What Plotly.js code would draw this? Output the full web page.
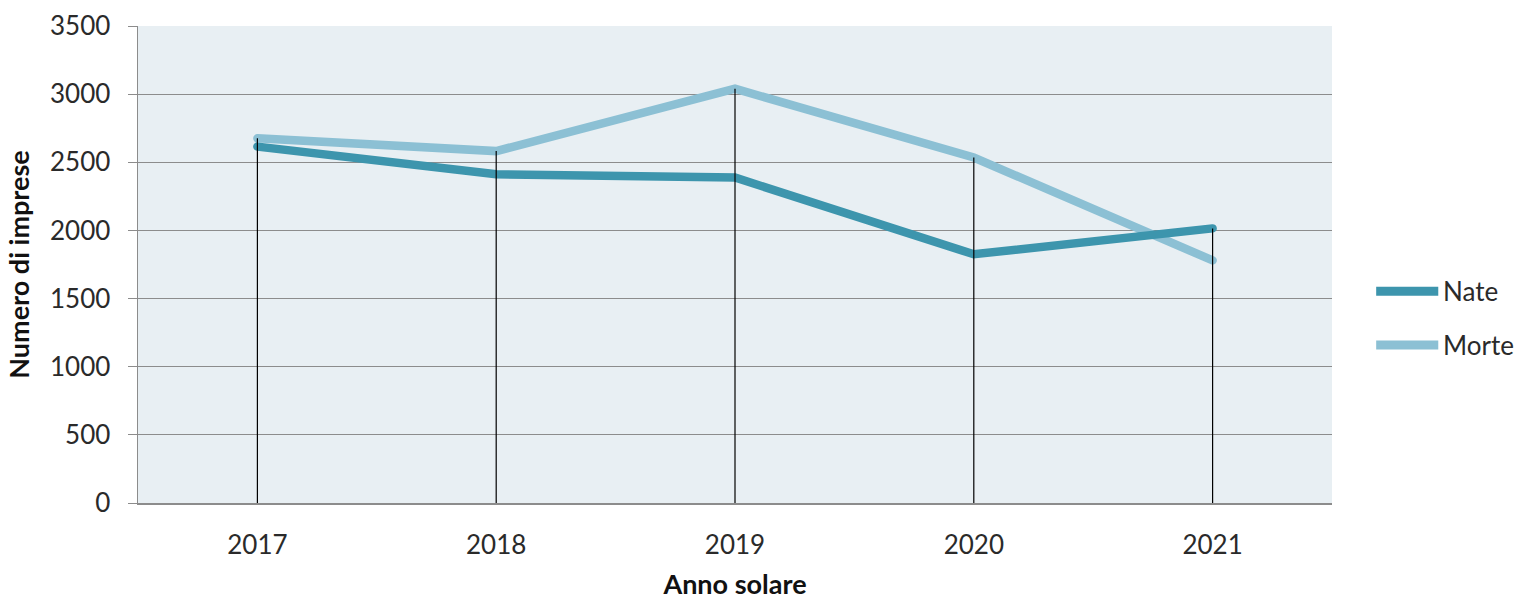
<!DOCTYPE html>
<html>
<head>
<meta charset="utf-8">
<script src="https://cdn.plot.ly/plotly-3.0.1.min.js"></script>
<style>html,body{margin:0;padding:0;background:#fff;}#chart{width:1521px;height:600px;}
#chart .scatterlayer path.js-line{stroke-linecap:round;}</style>
</head>
<body>
<div id="chart"></div>
<script>
const years = ["2017", "2018", "2019", "2020", "2021"];
const nate = [2615, 2412, 2388, 1825, 2015];
const morte = [2676, 2582, 3040, 2535, 1780];
const yTicks = [0, 500, 1000, 1500, 2000, 2500, 3000, 3500];
const seriesNames = ["Nate", "Morte"];
const seriesColors = ["#3d95ad", "#8cc0d4"];

const FONT = "Lato, 'Open Sans', sans-serif";
const TICK = {family: FONT, size: 26, color: "#2a2a2a"};

const traces = [
  {x: years, y: morte, name: seriesNames[1], type: "scatter", mode: "lines",
   line: {color: seriesColors[1], width: 8.5}},
  {x: years, y: nate, name: seriesNames[0], type: "scatter", mode: "lines",
   line: {color: seriesColors[0], width: 8.5}}
];

// drop lines from the highest series value to the axis
const shapes = years.map((yr, i) => ({
  type: "line", xref: "x", yref: "y", layer: "above",
  x0: i, x1: i, y0: 0, y1: Math.max(nate[i], morte[i]),
  line: {color: "#000", width: 1.2}
}));

// custom legend (longer line samples as in the reference)
const legY = [0.444, 0.331];
const annotations = [];
seriesNames.forEach((nm, k) => {
  shapes.push({type: "line", xref: "paper", yref: "paper",
    x0: 1.037, x1: 1.089, y0: legY[k], y1: legY[k],
    line: {color: seriesColors[k], width: 9}});
  annotations.push({xref: "paper", yref: "paper", x: 1.091, y: legY[k],
    xanchor: "left", yanchor: "middle", text: nm, showarrow: false,
    font: {family: FONT, size: 26, color: "#2a2a2a"}});
});

const layout = {
  width: 1521, height: 600,
  margin: {l: 138, r: 189, t: 26, b: 97},
  paper_bgcolor: "#ffffff",
  plot_bgcolor: "#e8eff3",
  font: {family: FONT, size: 26, color: "#222"},
  showlegend: false,
  xaxis: {type: "category", range: [-0.5, 4.5], showgrid: false,
          showline: true, linecolor: "#8c8c8c", linewidth: 1.5,
          ticks: "", ticklabelstandoff: 18, tickfont: TICK,
          title: {text: "<b>Anno solare</b>", font: {family: FONT, size: 27, color: "#111"}, standoff: 22},
          zeroline: false, fixedrange: true},
  yaxis: {range: [0, 3500], tickvals: yTicks, ticktext: yTicks.map(String),
          showgrid: true, gridcolor: "#8c8c8c", gridwidth: 1.2,
          showline: true, linecolor: "#8c8c8c", linewidth: 1.5,
          ticks: "outside", ticklen: 9, tickcolor: "#8c8c8c",
          ticklabelstandoff: 12, tickfont: TICK,
          title: {text: "<b>Numero di imprese</b>", font: {family: FONT, size: 27, color: "#111"}, standoff: 12},
          zeroline: false, fixedrange: true},
  shapes: shapes,
  annotations: annotations
};

Plotly.newPlot("chart", traces, layout, {staticPlot: true, displayModeBar: false});
</script>
</body>
</html>
